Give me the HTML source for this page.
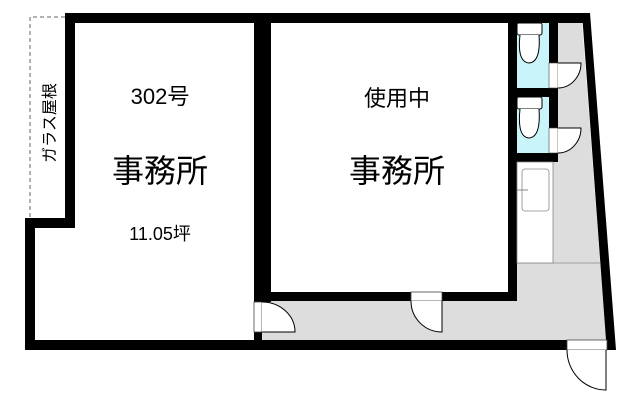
<!DOCTYPE html>
<html><head><meta charset="utf-8"><style>
html,body{margin:0;padding:0;background:#fff;width:640px;height:409px;overflow:hidden}
text{font-family:"Liberation Sans","Noto Sans CJK JP",sans-serif;fill:#000}
</style></head><body>
<svg width="640" height="409" viewBox="0 0 640 409" xmlns="http://www.w3.org/2000/svg">
<polygon points="558,23 582,23 606,340 262,340 262,301 517,301 517,263 553,263 553,162 558,162" fill="#dddddd"/>
<line x1="517" y1="263" x2="600" y2="263" stroke="#888" stroke-width="0.8"/>
<rect x="517" y="23" width="32" height="65" fill="#c8f4fa"/>
<rect x="517" y="97" width="32" height="56" fill="#c8f4fa"/>
<path d="M65,17 H30 V218" fill="none" stroke="#666" stroke-width="1" stroke-dasharray="4,3"/>
<g fill="#000">
<rect x="65" y="13" width="525" height="10"/>
<rect x="65" y="13" width="10" height="214"/>
<rect x="25" y="218" width="50" height="10"/>
<rect x="25" y="218" width="10" height="132"/>
<rect x="25" y="340" width="542" height="10"/>
<rect x="254" y="13" width="17" height="289"/>
<rect x="254" y="292" width="157" height="9"/>
<rect x="442" y="292" width="75" height="9"/>
<rect x="508" y="13" width="9" height="288"/>
<rect x="549" y="13" width="9" height="50"/>
<rect x="549" y="88" width="9" height="40"/>
<rect x="508" y="88" width="50" height="9"/>
<rect x="508" y="153" width="50" height="9"/>
<rect x="254" y="332" width="8" height="18"/>
<polygon points="582,13 590,13 616,350 606,350 606,340"/>
</g>
<rect x="254" y="302" width="8" height="30" fill="#fff" stroke="#444" stroke-width="0.8"/>
<path d="M262,302 A33,30 0 0 1 295,332 H262" fill="#fff" stroke="#000" stroke-width="1"/>
<rect x="411" y="292" width="31" height="9" fill="#fff" stroke="#444" stroke-width="0.8"/>
<path d="M411,301 A31,31 0 0 0 442,332 V301" fill="#fff" stroke="#000" stroke-width="1"/>
<rect x="549" y="63" width="9" height="25" fill="#fff" stroke="#444" stroke-width="0.6"/>
<path d="M558,63 H581 A23,25 0 0 1 558,88" fill="#fff" stroke="#000" stroke-width="1"/>
<rect x="549" y="128" width="9" height="25" fill="#fff" stroke="#444" stroke-width="0.6"/>
<path d="M558,128 H581 A23,25 0 0 1 558,153" fill="#fff" stroke="#000" stroke-width="1"/>
<rect x="517" y="23" width="25" height="12" rx="2" fill="#fff" stroke="#000" stroke-width="1"/>
<path d="M520,35 Q517,62 529,63 Q541,62 539,35" fill="#fff" stroke="#000" stroke-width="1"/>
<rect x="517" y="97" width="25" height="12" rx="2" fill="#fff" stroke="#000" stroke-width="1"/>
<path d="M520,109 Q517,137 529,138 Q541,137 539,109" fill="#fff" stroke="#000" stroke-width="1"/>
<rect x="517" y="162" width="36" height="101" fill="#fff" stroke="#888" stroke-width="0.8"/>
<rect x="522" y="169" width="27" height="42" rx="3" fill="#fff" stroke="#888" stroke-width="0.8"/>
<line x1="517" y1="190" x2="528" y2="190" stroke="#888" stroke-width="1"/>
<rect x="567" y="340" width="40" height="10" fill="#fff" stroke="#444" stroke-width="0.8"/>
<path d="M567,350 A39,40 0 0 0 606,390 V350" fill="#fff" stroke="#000" stroke-width="1"/>
<text x="160" y="104" font-size="22" text-anchor="middle">302号</text>
<text x="160" y="182" font-size="32" text-anchor="middle">事務所</text>
<text x="160" y="240" font-size="18" text-anchor="middle">11.05坪</text>
<text x="397" y="106" font-size="22" text-anchor="middle">使用中</text>
<text x="397" y="182" font-size="32" text-anchor="middle">事務所</text>
<text transform="translate(55,123) rotate(-90)" font-size="16" text-anchor="middle">ガラス屋根</text>
</svg>
</body></html>
